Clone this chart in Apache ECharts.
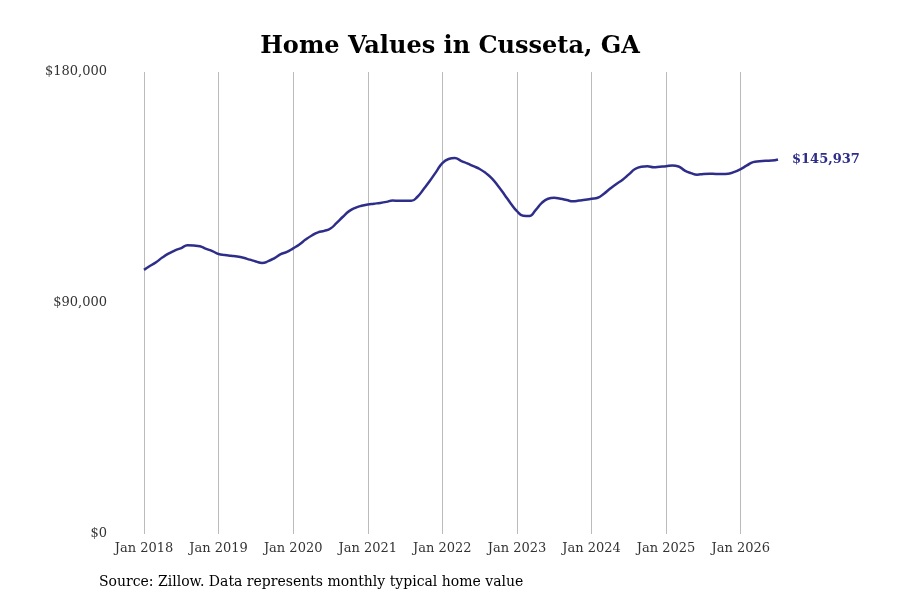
<!DOCTYPE html><html><head><meta charset="utf-8"><script src="https://cdn.jsdelivr.net/npm/echarts@6/dist/echarts.min.js"></script></head><body style="margin:0"><div id="c" style="width:900px;height:600px"></div><script>
const yearsK=[
[102.9,104.5,106,107.8,109.3,110.5,111.4,112.5,112.4,112.1,111.1,110.2],
[109.1,108.7,108.4,108.1,107.6,106.9,106.2,105.6,106.3,107.5,109,109.9],
[111.3,112.8,114.7,116.3,117.5,118.1,119,121.2,123.6,125.8,127.1,127.9],
[128.4,128.7,129,129.4,129.9,129.8,129.8,129.8,131.4,134.4,137.6,141.1],
[144.5,146.1,146.5,145.4,144.4,143.3,142.2,140.6,138.5,135.5,132.2,128.8],
[125.8,124,123.9,126.2,129,130.6,131,130.6,130.1,129.6,129.9,130.2],
[130.6,131,132.6,134.6,136.4,138,140.1,142.2,143.1,143.3,142.9,143.1],
[143.3,143.6,143.2,141.6,140.6,140,140.3,140.4,140.3,140.3,140.4,141.1],
[142.2,143.6,144.9,145.2,145.4,145.5,145.937]];
const values=[].concat(...yearsK).map(v=>Math.round(v*1000));
const months=['Jan','Feb','Mar','Apr','May','Jun','Jul','Aug','Sep','Oct','Nov','Dec'];
const categories=values.map((_,i)=>months[i%12]+' '+(2018+Math.floor(i/12)));
const F='"DejaVu Serif", serif';
echarts.init(document.getElementById('c')).setOption({
 animation:false,
 title:{text:'Home Values in Cusseta, GA',left:'center',top:30,textStyle:{fontFamily:F,fontSize:24,fontWeight:'bold',color:'#000'}},
 graphic:[{type:'text',left:99,top:575,style:{text:'Source: Zillow. Data represents monthly typical home value',font:'14px '+F,fill:'#000'}}],
 grid:{left:144,right:122,top:72,bottom:66},
 xAxis:{type:'category',data:categories,boundaryGap:false,
  axisLine:{show:false},axisTick:{show:false},
  axisLabel:{interval:i=>i%12===0,fontFamily:F,fontSize:13,color:'#333',margin:8},
  splitLine:{show:true,interval:i=>i%12===0,lineStyle:{color:'#bbb'}}},
 yAxis:{type:'value',min:0,max:180000,interval:90000,splitLine:{show:false},
  axisLabel:{fontFamily:F,fontSize:13,color:'#333',formatter:v=>'$'+v.toLocaleString('en-US'),margin:37,verticalAlign:'middle'}},
 series:[{type:'line',data:values,showSymbol:false,smooth:true,
  endLabel:{show:true,distance:14,formatter:p=>'$'+p.value.toLocaleString('en-US'),fontFamily:F,fontSize:13,fontWeight:'bold',color:'#2e2e8a'},
  lineStyle:{color:'#2e2e8a',width:2.5},itemStyle:{color:'#2e2e8a'}}]
});
</script></body></html>
